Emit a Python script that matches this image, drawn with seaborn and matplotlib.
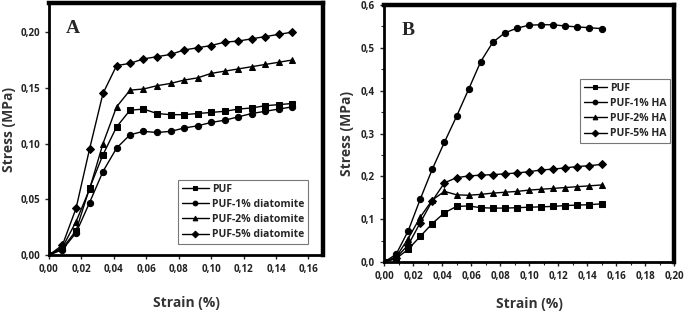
import matplotlib
matplotlib.use("Agg")
import matplotlib.pyplot as plt
from matplotlib.ticker import FuncFormatter, MultipleLocator
import numpy as np
import pandas as pd
import seaborn as sns

# strain points (%), shared by every series
strain = [0, 0.0083, 0.0167, 0.025, 0.0333, 0.0417, 0.05, 0.0583, 0.0667, 0.075,
          0.0833, 0.0917, 0.10, 0.1083, 0.1167, 0.125, 0.1333, 0.1417, 0.15]

# panel A - diatomite
a_puf = [0, 0.006, 0.022, 0.060, 0.090, 0.115, 0.130, 0.131, 0.127, 0.126,
         0.126, 0.127, 0.128, 0.129, 0.131, 0.132, 0.134, 0.135, 0.136]
a_1 = [0, 0.005, 0.020, 0.047, 0.075, 0.096, 0.108, 0.111, 0.110, 0.111,
       0.114, 0.116, 0.119, 0.121, 0.124, 0.127, 0.129, 0.131, 0.133]
a_2 = [0, 0.007, 0.030, 0.059, 0.100, 0.133, 0.148, 0.149, 0.152, 0.154,
       0.157, 0.159, 0.163, 0.165, 0.167, 0.169, 0.171, 0.173, 0.175]
a_5 = [0, 0.009, 0.042, 0.095, 0.145, 0.170, 0.172, 0.176, 0.178, 0.180,
       0.184, 0.186, 0.188, 0.191, 0.192, 0.194, 0.196, 0.198, 0.200]
a_names = ["PUF", "PUF-1% diatomite", "PUF-2% diatomite", "PUF-5% diatomite"]

# panel B - HA
b_puf = [0, 0.008, 0.030, 0.060, 0.090, 0.115, 0.130, 0.131, 0.127, 0.126,
         0.126, 0.127, 0.128, 0.129, 0.130, 0.132, 0.133, 0.134, 0.136]
b_1 = [0, 0.018, 0.073, 0.147, 0.217, 0.280, 0.340, 0.403, 0.468, 0.513,
       0.535, 0.546, 0.553, 0.554, 0.554, 0.551, 0.549, 0.547, 0.545]
b_2 = [0, 0.012, 0.055, 0.105, 0.145, 0.165, 0.157, 0.156, 0.158, 0.161,
       0.163, 0.165, 0.168, 0.170, 0.172, 0.174, 0.176, 0.178, 0.180]
b_5 = [0, 0.010, 0.040, 0.092, 0.143, 0.185, 0.197, 0.201, 0.203, 0.204,
       0.206, 0.208, 0.211, 0.215, 0.217, 0.220, 0.223, 0.225, 0.228]
b_names = ["PUF", "PUF-1% HA", "PUF-2% HA", "PUF-5% HA"]

marks = ["s", "o", "^", "D"]


def long_df(names, series):
    rows = []
    for n, s in zip(names, series):
        for x, y in zip(strain, s):
            rows.append({"strain": x, "stress": y, "sample": n})
    return pd.DataFrame(rows)


sns.set_style("white")
plt.rcParams["font.family"] = ["Open Sans", "DejaVu Sans"]
plt.rcParams["font.weight"] = "bold"

fig = plt.figure(figsize=(6.85, 3.15), dpi=100)
axA = fig.add_axes([0.0715, 0.19, 0.40, 0.80])
axB = fig.add_axes([0.5606, 0.168, 0.4234, 0.816])


def draw(ax, names, series, letter, yfmt, xpad, ypad):
    df = long_df(names, series)
    sns.lineplot(data=df, x="strain", y="stress", hue="sample", style="sample",
                 palette=["black"] * 4, markers=dict(zip(names, marks)),
                 dashes=False, ax=ax, linewidth=1.0, markersize=4.5,
                 markeredgecolor="black")
    for side in ["left", "bottom"]:
        ax.spines[side].set_linewidth(2.0)
    for side in ["top", "right"]:
        ax.spines[side].set_linewidth(3.2)
    for s in ax.spines.values():
        s.set_color("black")
    ax.tick_params(direction="out", length=3, width=1, labelsize=7,
                   bottom=True, left=True, colors="#222222")
    ax.tick_params(which="minor", direction="out", length=2, width=0.8,
                   bottom=True, left=True)
    ax.xaxis.set_major_formatter(FuncFormatter(lambda v, p: f"{v:.2f}".replace(".", ",")))
    ax.yaxis.set_major_formatter(FuncFormatter(lambda v, p: format(v, yfmt).replace(".", ",")))
    for lab in ax.get_xticklabels() + ax.get_yticklabels():
        lab.set_fontweight("bold")
    ax.set_xlabel("Strain (%)", fontsize=10, fontweight="bold", color="#333333", labelpad=xpad)
    ax.set_ylabel("Stress (MPa)", fontsize=10, fontweight="bold", color="#333333", labelpad=ypad)
    ax.text(0.06, 0.935, letter, transform=ax.transAxes, fontsize=14,
            fontweight="bold", family="Liberation Serif", va="top")
    return ax


def make_legend(ax, anchor, loc, hl):
    leg = ax.legend(title=None, loc=loc, bbox_to_anchor=anchor,
                    fontsize=7.5, frameon=True, fancybox=False, edgecolor="#555555",
                    handlelength=hl, borderpad=0.35, labelspacing=0.4,
                    handletextpad=0.3, borderaxespad=0, markerscale=0.75)
    leg.get_frame().set_linewidth(0.8)
    for t in leg.get_texts():
        t.set_fontweight("bold")
    return leg


draw(axA, a_names, [a_puf, a_1, a_2, a_5], "A", ".2f", 15, 3)
axA.set_xlim(0, 0.169)
axA.set_ylim(0, 0.226)
axA.xaxis.set_major_locator(MultipleLocator(0.02))
axA.yaxis.set_major_locator(MultipleLocator(0.05))
make_legend(axA, (0.945, 0.045), "lower right", 2.6)

draw(axB, b_names, [b_puf, b_1, b_2, b_5], "B", ".1f", 11, 5)
axB.set_xlim(0, 0.20)
axB.set_ylim(0, 0.6)
axB.xaxis.set_major_locator(MultipleLocator(0.02))
axB.xaxis.set_minor_locator(MultipleLocator(0.01))
axB.yaxis.set_major_locator(MultipleLocator(0.1))
axB.yaxis.set_minor_locator(MultipleLocator(0.05))
make_legend(axB, (0.986, 0.712), "upper right", 2.2)

fig.savefig("out.png", dpi=100)
